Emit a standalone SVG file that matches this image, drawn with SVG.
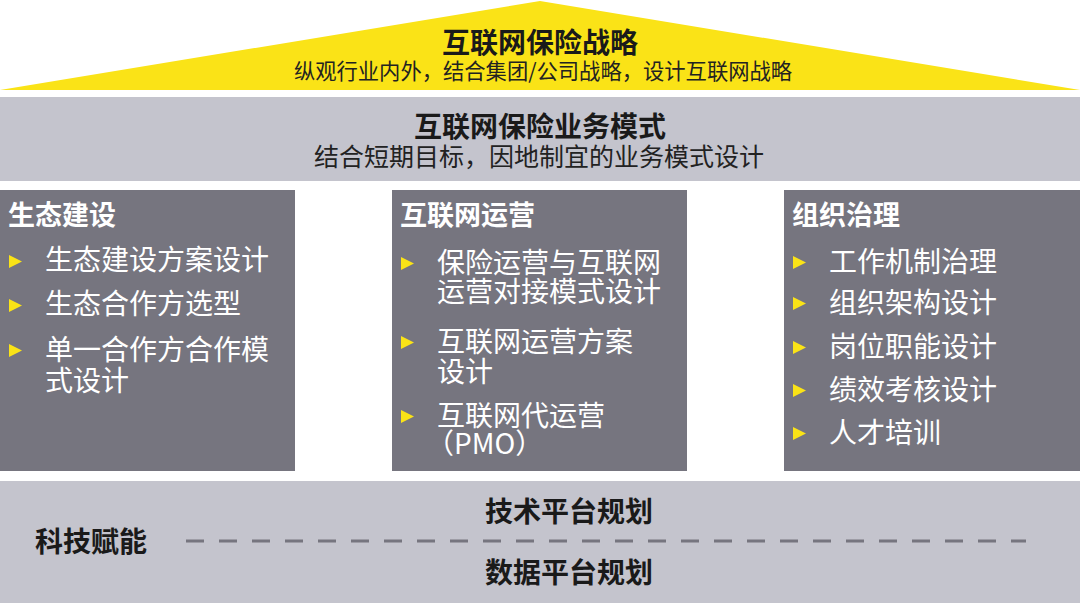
<svg xmlns="http://www.w3.org/2000/svg" width="1080" height="603" viewBox="0 0 1080 603">
<defs>
<style>
.hd{font-family:"Noto Sans CJK SC","Noto Sans",sans-serif;font-weight:700;fill:#1a1a1a}
.sub{font-family:"Noto Sans CJK SC","Noto Sans",sans-serif;font-weight:400;fill:#222}
.bt{font-family:"Noto Sans CJK SC","Noto Sans",sans-serif;font-weight:700;font-size:27px;fill:#fff}
.it{font-family:"Noto Sans CJK SC","Noto Sans",sans-serif;font-weight:400;font-size:28px;fill:#fff}
.box{fill:#76757f}
.band{fill:#c4c4cd}
.bul{fill:#fae317}
</style>
<polygon id="tri" points="0,0 13,6.5 0,13"/>
</defs>
<rect width="1080" height="603" fill="#fff"/>

<g id="strategy">
<polygon points="0,90 540,1 1080,90" fill="#fae317"/>
<text class="hd" x="540" y="53" font-size="28" text-anchor="middle">互联网保险战略</text>
<text class="sub" x="543" y="79" font-size="21.3" text-anchor="middle">纵观行业内外，结合集团/公司战略，设计互联网战略</text>
</g>

<g id="business-model">
<rect class="band" x="0" y="97" width="1080" height="84"/>
<text class="hd" x="540" y="137" font-size="28" text-anchor="middle">互联网保险业务模式</text>
<text class="sub" x="539" y="166" font-size="25" text-anchor="middle">结合短期目标，因地制宜的业务模式设计</text>
</g>

<g id="ecosystem">
<rect class="box" x="0" y="190" width="295" height="281"/>
<text class="bt" x="8" y="225">生态建设</text>
<use href="#tri" class="bul" x="9" y="255"/>
<text class="it" x="45" y="270">生态建设方案设计</text>
<use href="#tri" class="bul" x="9" y="299"/>
<text class="it" x="45" y="314">生态合作方选型</text>
<use href="#tri" class="bul" x="9" y="344"/>
<text class="it" x="45" y="360">单一合作方合作模<tspan x="45" y="391">式设计</tspan></text>
</g>

<g id="internet-ops">
<rect class="box" x="392" y="190" width="295" height="281"/>
<text class="bt" x="400" y="225">互联网运营</text>
<use href="#tri" class="bul" x="401" y="257"/>
<text class="it" x="437" y="273">保险运营与互联网<tspan x="437" y="302">运营对接模式设计</tspan></text>
<use href="#tri" class="bul" x="401" y="336"/>
<text class="it" x="437" y="352">互联网运营方案<tspan x="437" y="382">设计</tspan></text>
<use href="#tri" class="bul" x="401" y="410"/>
<text class="it" x="437" y="426">互联网代运营<tspan x="426" y="454">（PMO）</tspan></text>
</g>

<g id="org-governance">
<rect class="box" x="784" y="190" width="296" height="281"/>
<text class="bt" x="792" y="225">组织治理</text>
<use href="#tri" class="bul" x="793" y="256"/>
<text class="it" x="829" y="272">工作机制治理</text>
<use href="#tri" class="bul" x="793" y="297"/>
<text class="it" x="829" y="313">组织架构设计</text>
<use href="#tri" class="bul" x="793" y="341"/>
<text class="it" x="829" y="357">岗位职能设计</text>
<use href="#tri" class="bul" x="793" y="384"/>
<text class="it" x="829" y="400">绩效考核设计</text>
<use href="#tri" class="bul" x="793" y="427"/>
<text class="it" x="829" y="443">人才培训</text>
</g>

<g id="tech-enablement">
<rect class="band" x="0" y="481" width="1080" height="122"/>
<text class="hd" x="35" y="552" font-size="28">科技赋能</text>
<text class="hd" x="569" y="522" font-size="28" text-anchor="middle">技术平台规划</text>
<text class="hd" x="569" y="583" font-size="28" text-anchor="middle">数据平台规划</text>
</g>

<g id="connectors">
<line x1="186" y1="541" x2="1026" y2="541" stroke="#76757f" stroke-width="3" stroke-dasharray="18 15"/>
</g>
</svg>
